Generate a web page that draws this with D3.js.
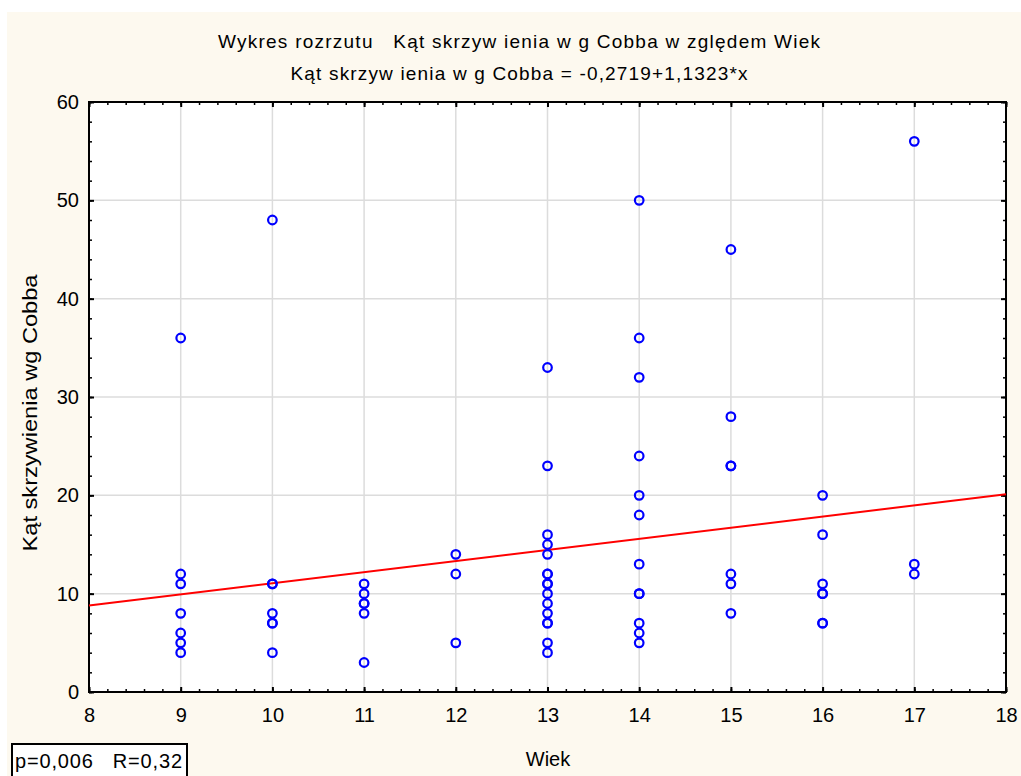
<!DOCTYPE html>
<html>
<head>
<meta charset="utf-8">
<script src="https://cdn.jsdelivr.net/npm/d3@7"></script>
<style>
  body { margin: 0; background: #fff; }
  text { font-family: "Liberation Sans", Arial, sans-serif; fill: #000; white-space: pre; }
</style>
</head>
<body>
<svg id="chart" width="1021" height="776"></svg>
<script>
// ages (Wiek) and Cobb angles
let ages = [9, 10, 11, 12, 13, 14, 15, 16, 17];
let angles = [
    [36, 12, 11, 8, 6, 5, 4],
    [48, 11, 11, 8, 7, 7, 4],
    [11, 10, 9, 9, 8, 3],
    [14, 12, 5],
    [33, 23, 16, 15, 14, 12, 12, 11, 11, 10, 9, 8, 7, 7, 5, 4],
    [50, 36, 32, 24, 20, 18, 13, 10, 10, 7, 6, 5],
    [45, 28, 23, 23, 12, 11, 8],
    [20, 16, 11, 10, 10, 7, 7],
    [56, 13, 12]
];
let xTicks = [8, 9, 10, 11, 12, 13, 14, 15, 16, 17, 18];
let yTicks = [0, 10, 20, 30, 40, 50, 60];
let fitA = -0.2719, fitB = 1.1323;

let title1 = "Wykres rozrzutu   Kąt skrzyw ienia w g Cobba w zględem Wiek";
let title2 = "Kąt skrzyw ienia w g Cobba = -0,2719+1,1323*x";
let xLabel = "Wiek";
let yLabel = "Kąt skrzywienia wg Cobba";
let statsText = "p=0,006   R=0,32";

let points = [];
ages.forEach((a, i) => angles[i].forEach(v => points.push({x: a, y: v})));

let svg = d3.select("#chart"),
    margin = {top: 102, right: 15, bottom: 84, left: 89},
    width = 1006 - margin.left,
    height = 692 - margin.top;

// cream background panel
svg.append("rect")
    .attr("x", 7).attr("y", 12)
    .attr("width", 1014).attr("height", 764)
    .attr("fill", "#fdf9ef");

let g = svg.append("g").attr("transform", "translate(" + margin.left + "," + margin.top + ")");

let scaleX = d3.scaleLinear().domain([8, 18]).range([0, width]);
let scaleY = d3.scaleLinear().domain([0, 60]).range([height, 0]);

g.append("rect").attr("width", width).attr("height", height).attr("fill", "#fff");

// grid
g.append("g").selectAll("line").data(xTicks.slice(1, -1)).enter().append("line")
    .attr("x1", d => scaleX(d)).attr("x2", d => scaleX(d))
    .attr("y1", 0).attr("y2", height)
    .attr("stroke", "#dcdcdc").attr("stroke-width", 1.5);
g.append("g").selectAll("line").data(yTicks.slice(1, -1)).enter().append("line")
    .attr("x1", 0).attr("x2", width)
    .attr("y1", d => scaleY(d)).attr("y2", d => scaleY(d))
    .attr("stroke", "#dcdcdc").attr("stroke-width", 1.5);

// minor ticks
let xMinor = d3.range(8, 18.001, 0.2);
let yMinor = d3.range(0, 60.001, 2);
const minor = (axis, tr) => {
    let a = g.append("g").attr("transform", tr).call(axis);
    a.selectAll("text").remove();
    a.select(".domain").remove();
    a.selectAll("line").attr("stroke", "#000").attr("stroke-width", 1.5);
};
minor(d3.axisBottom(scaleX).tickValues(xMinor).tickSize(-3), "translate(0," + height + ")");
minor(d3.axisTop(scaleX).tickValues(xMinor).tickSize(-3), "translate(0,0)");
minor(d3.axisLeft(scaleY).tickValues(yMinor).tickSize(-3), "translate(0,0)");
minor(d3.axisRight(scaleY).tickValues(yMinor).tickSize(-3), "translate(" + width + ",0)");

// major ticks with labels
let xAxis = g.append("g").attr("transform", "translate(0," + height + ")")
    .call(d3.axisBottom(scaleX).tickValues(xTicks).tickSize(-5).tickPadding(16).tickFormat(d3.format("d")));
let yAxis = g.append("g")
    .call(d3.axisLeft(scaleY).tickValues(yTicks).tickSize(-5).tickPadding(10).tickFormat(d3.format("d")));
let topAxis = g.append("g").call(d3.axisTop(scaleX).tickValues(xTicks).tickSize(-5));
topAxis.selectAll("text").remove();
let rightAxis = g.append("g").attr("transform", "translate(" + width + ",0)")
    .call(d3.axisRight(scaleY).tickValues(yTicks).tickSize(-5));
rightAxis.selectAll("text").remove();

[xAxis, yAxis, topAxis, rightAxis].forEach(a => {
    a.select(".domain").remove();
    a.selectAll("line").attr("stroke", "#000").attr("stroke-width", 2);
    a.attr("font-size", 20).attr("font-family", null);
    a.selectAll("text").attr("fill", "#000");
});
xAxis.selectAll("text").attr("dy", "0.71em");

// frame
g.append("rect").attr("width", width).attr("height", height)
    .attr("fill", "none").attr("stroke", "#000").attr("stroke-width", 2);

// regression line
g.append("line")
    .attr("x1", scaleX(8)).attr("y1", scaleY(fitA + fitB * 8))
    .attr("x2", scaleX(18)).attr("y2", scaleY(fitA + fitB * 18))
    .attr("stroke", "#ff0000").attr("stroke-width", 2);

// points
g.append("g").selectAll("circle").data(points).enter().append("circle")
    .attr("cx", d => scaleX(d.x))
    .attr("cy", d => scaleY(d.y))
    .attr("r", 4.3)
    .attr("fill", "none")
    .attr("stroke", "#0000ff")
    .attr("stroke-width", 2.2);

// titles
svg.append("text").attr("x", 519).attr("y", 48).attr("text-anchor", "middle")
    .attr("font-size", 19).attr("textLength", 602).attr("lengthAdjust", "spacing").text(title1);
svg.append("text").attr("x", 519).attr("y", 80).attr("text-anchor", "middle")
    .attr("font-size", 19).attr("textLength", 457).attr("lengthAdjust", "spacing").text(title2);

svg.append("text").attr("x", 548).attr("y", 766).attr("text-anchor", "middle")
    .attr("font-size", 20).text(xLabel);
svg.append("text")
    .attr("transform", "translate(37,413) rotate(-90)")
    .attr("text-anchor", "middle").attr("font-size", 20)
    .attr("textLength", 277).attr("lengthAdjust", "spacingAndGlyphs").text(yLabel);

// stats box
svg.append("rect").attr("x", 12).attr("y", 744).attr("width", 175).attr("height", 40)
    .attr("fill", "#fff").attr("stroke", "#000").attr("stroke-width", 2);
svg.append("text").attr("x", 15).attr("y", 768).attr("font-size", 20)
    .attr("textLength", 167).attr("lengthAdjust", "spacing").text(statsText);
</script>
</body>
</html>
